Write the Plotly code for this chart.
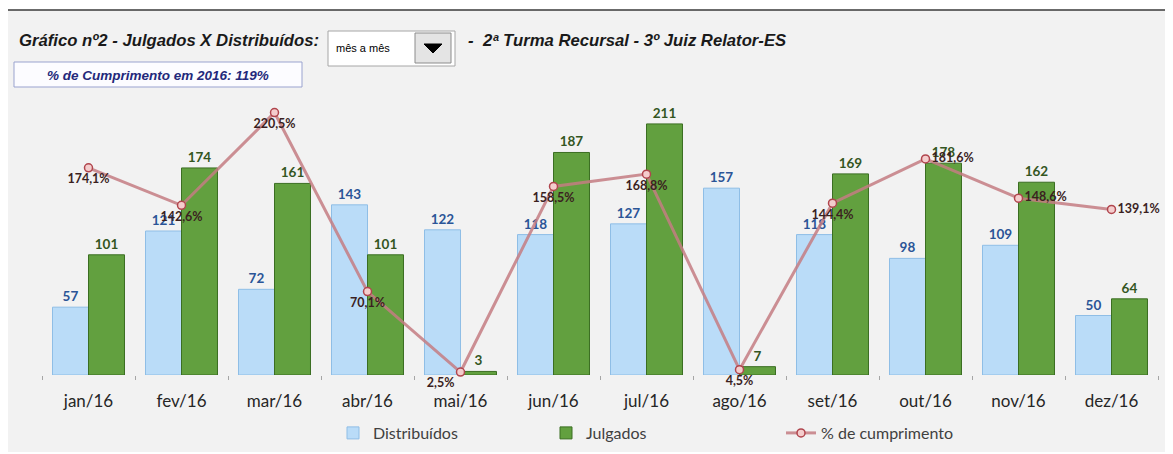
import plotly.graph_objects as go

months = ["jan/16", "fev/16", "mar/16", "abr/16", "mai/16", "jun/16",
          "jul/16", "ago/16", "set/16", "out/16", "nov/16", "dez/16"]
distribuidos = [57, 121, 72, 143, 122, 118, 127, 157, 118, 98, 109, 50]
julgados = [101, 174, 161, 101, 3, 187, 211, 7, 169, 178, 162, 64]
cumprimento = [174.1, 142.6, 220.5, 70.1, 2.5, 158.5, 168.8, 4.5, 144.4, 181.6, 148.6, 139.1]
pct_pos = ["bottom center", "bottom center", "bottom center", "bottom center", "bottom left",
           "bottom center", "bottom center", "bottom center", "bottom center",
           "middle right", "middle right", "middle right"]
pct_text = [f"{v:.1f}".replace(".", ",") + "%" for v in cumprimento]

# the page body adds an 8px offset; work in reference-pixel coordinates
OFF = 8
W, H = 1173 - OFF, 454 - OFF
L, R, T, B = 42 - OFF, 15, 90 - OFF, 79
PW, PH = W - L - R, H - T - B


def px(x):
    return (x - OFF - L) / PW


def py(y):
    return (H - B - (y - OFF)) / PH


fig = go.Figure()
fig.add_trace(go.Bar(
    x=months, y=distribuidos, name="Distribuídos", legend="legend",
    marker=dict(color="#BADCF8", line=dict(color="#8FBEE6", width=1)),
    text=distribuidos, textposition="outside",
    outsidetextfont=dict(family="Lato", size=13.5, color="#2B5597", weight="bold"),
    cliponaxis=False,
))
fig.add_trace(go.Bar(
    x=months, y=julgados, name="Julgados", legend="legend2",
    marker=dict(color="#62A03F", line=dict(color="#3B6E22", width=1)),
    text=julgados, textposition="outside",
    outsidetextfont=dict(family="Lato", size=13.5, color="#34561F", weight="bold"),
    cliponaxis=False,
))
fig.add_trace(go.Scatter(
    x=months, y=cumprimento, name="% de cumprimento", legend="legend3",
    yaxis="y2", mode="lines+markers+text",
    line=dict(color="rgba(196,124,130,0.85)", width=3),
    marker=dict(symbol="circle", size=8, color="#F4CDCD", line=dict(color="#B0454D", width=1.5)),
    text=pct_text, textposition=pct_pos,
    textfont=dict(family="Lato", size=12.5, color="#3B1F1F", weight="bold"),
    cliponaxis=False,
))

shapes = [
    dict(type="rect", xref="paper", yref="paper", x0=px(0), x1=px(1173), y0=py(452), y1=py(10),
         fillcolor="#F2F2F2", line=dict(width=0), layer="below"),
    dict(type="line", xref="paper", yref="paper", x0=px(0), x1=px(1173), y0=py(10), y1=py(10),
         line=dict(color="#3A3A3A", width=1.5)),
    dict(type="line", xref="paper", yref="paper", x0=px(1171), x1=px(1171), y0=py(452), y1=py(10),
         line=dict(color="#9A9A9A", width=1)),
    # dropdown
    dict(type="rect", xref="paper", yref="paper", x0=px(328), x1=px(455), y0=py(66), y1=py(31),
         fillcolor="#FFFFFF", line=dict(color="#A6A6A6", width=1)),
    dict(type="rect", xref="paper", yref="paper", x0=px(415), x1=px(451), y0=py(63), y1=py(33),
         fillcolor="#E4E4E4", line=dict(color="#8C8C8C", width=1)),
    dict(type="path", xref="paper", yref="paper",
         path=f"M {px(424)} {py(44)} L {px(442)} {py(44)} L {px(433)} {py(53)} Z",
         fillcolor="#000000", line=dict(color="#000000", width=1)),
    # subtitle box
    dict(type="rect", xref="paper", yref="paper", x0=px(14), x1=px(302), y0=py(87), y1=py(62),
         fillcolor="#FCFCFF", line=dict(color="#9AA3CF", width=1)),
]

annotations = [
    dict(text="<b><i>Gráfico nº2 - Julgados X Distribuídos:</i></b>", x=px(17), y=py(41),
         xref="paper", yref="paper", xanchor="left", yanchor="middle", showarrow=False,
         font=dict(family="Liberation Sans", size=16.7, color="#1A1A1A")),
    dict(text="mês a mês", x=px(334), y=py(48), xref="paper", yref="paper",
         xanchor="left", yanchor="middle", showarrow=False,
         font=dict(family="Liberation Sans", size=11, color="#000000")),
    dict(text="<b><i>-</i></b>", x=px(466), y=py(41), xref="paper", yref="paper",
         xanchor="left", yanchor="middle", showarrow=False,
         font=dict(family="Liberation Sans", size=16.7, color="#1A1A1A")),
    dict(text="<b><i>2ª Turma Recursal - 3º Juiz Relator-ES</i></b>", x=px(480), y=py(41),
         xref="paper", yref="paper", xanchor="left", yanchor="middle", showarrow=False,
         font=dict(family="Liberation Sans", size=16.7, color="#1A1A1A")),
    dict(text="<b><i>% de Cumprimento em 2016: 119%</i></b>", x=px(158), y=py(75),
         xref="paper", yref="paper", xanchor="center", yanchor="middle", showarrow=False,
         font=dict(family="Liberation Sans", size=13.5, color="#23287A")),
]

leg_common = dict(orientation="h", yanchor="middle", xanchor="left", y=py(433),
                  bgcolor="rgba(0,0,0,0)", font=dict(family="Lato", size=16, color="#404040"))

fig.update_layout(
    width=W, height=H,
    margin=dict(l=L, r=R, t=T, b=B, autoexpand=False),
    paper_bgcolor="#FFFFFF", plot_bgcolor="rgba(0,0,0,0)",
    barmode="group", bargap=0.226, bargroupgap=0,
    showlegend=True,
    legend=dict(x=px(333), **leg_common),
    legend2=dict(x=px(546), **leg_common),
    legend3=dict(x=px(781), **leg_common),
    xaxis=dict(type="category", categoryorder="array", categoryarray=months,
               range=[-0.5, 11.5], autorange=False,
               tickson="boundaries", ticks="outside", ticklen=4, tickcolor="#A6A6A6",
               showline=False, showgrid=False, zeroline=False,
               ticklabelstandoff=14,
               tickfont=dict(family="Lato", size=17, color="#262626")),
    yaxis=dict(range=[0, 239.5], visible=False, showgrid=False),
    yaxis2=dict(range=[0, 239.5], overlaying="y", visible=False, showgrid=False),
    shapes=shapes, annotations=annotations,
)

fig.write_html("out.html")
